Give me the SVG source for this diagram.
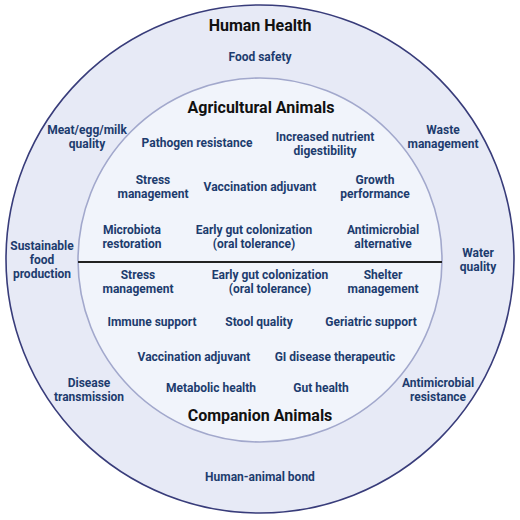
<svg xmlns="http://www.w3.org/2000/svg" width="520" height="520" viewBox="0 0 520 520">
<style>
.t{font-family:Roboto,"Liberation Sans",sans-serif;font-weight:700;font-size:12px;fill:#1d3c6e;text-anchor:middle}
.h{font-family:Roboto,"Liberation Sans",sans-serif;font-weight:700;font-size:16px;fill:#111;text-anchor:middle}
</style>
<rect width="520" height="520" fill="#fff"/>
<g id="outer">
<circle cx="260" cy="259" r="254" fill="#e7eaf6" stroke="#383c7a" stroke-width="1.6"/>
</g>
<g id="inner">
<circle cx="260" cy="260" r="182" fill="#f1f4fb" stroke="#a2a8cc" stroke-width="1.6"/>
</g>
<g id="connectors">
<line x1="78" y1="262" x2="442" y2="262" stroke="#222" stroke-width="2"/>
</g>
<g id="human-health">
<text class="h" x="260" y="31">Human Health</text>
<text class="t" x="260" y="61">Food safety</text>
<text class="t" x="87" y="134">Meat/egg/milk</text>
<text class="t" x="87" y="148">quality</text>
<text class="t" x="443" y="134">Waste</text>
<text class="t" x="443" y="148">management</text>
<text class="t" x="42" y="250">Sustainable</text>
<text class="t" x="42" y="264">food</text>
<text class="t" x="42" y="278">production</text>
<text class="t" x="478" y="257">Water</text>
<text class="t" x="478" y="271">quality</text>
<text class="t" x="89" y="387">Disease</text>
<text class="t" x="89" y="401">transmission</text>
<text class="t" x="438" y="387">Antimicrobial</text>
<text class="t" x="438" y="401">resistance</text>
<text class="t" x="260" y="481">Human-animal bond</text>
</g>
<g id="agricultural">
<text class="h" x="261" y="112.5">Agricultural Animals</text>
<text class="t" x="197" y="147">Pathogen resistance</text>
<text class="t" x="325" y="141">Increased nutrient</text>
<text class="t" x="325" y="155">digestibility</text>
<text class="t" x="153" y="184">Stress</text>
<text class="t" x="153" y="198">management</text>
<text class="t" x="260" y="191">Vaccination adjuvant</text>
<text class="t" x="375" y="184">Growth</text>
<text class="t" x="375" y="198">performance</text>
<text class="t" x="132" y="234">Microbiota</text>
<text class="t" x="132" y="248">restoration</text>
<text class="t" x="254" y="234">Early gut colonization</text>
<text class="t" x="254" y="248">(oral tolerance)</text>
<text class="t" x="383" y="234">Antimicrobial</text>
<text class="t" x="383" y="248">alternative</text>
</g>
<g id="companion">
<text class="t" x="138" y="279">Stress</text>
<text class="t" x="138" y="293">management</text>
<text class="t" x="270" y="279">Early gut colonization</text>
<text class="t" x="270" y="293">(oral tolerance)</text>
<text class="t" x="383" y="279">Shelter</text>
<text class="t" x="383" y="293">management</text>
<text class="t" x="152" y="326">Immune support</text>
<text class="t" x="259" y="326">Stool quality</text>
<text class="t" x="371" y="326">Geriatric support</text>
<text class="t" x="194" y="361">Vaccination adjuvant</text>
<text class="t" x="335" y="361">GI disease therapeutic</text>
<text class="t" x="211" y="392">Metabolic health</text>
<text class="t" x="321" y="392">Gut health</text>
<text class="h" x="260" y="420.5">Companion Animals</text>
</g>
</svg>
